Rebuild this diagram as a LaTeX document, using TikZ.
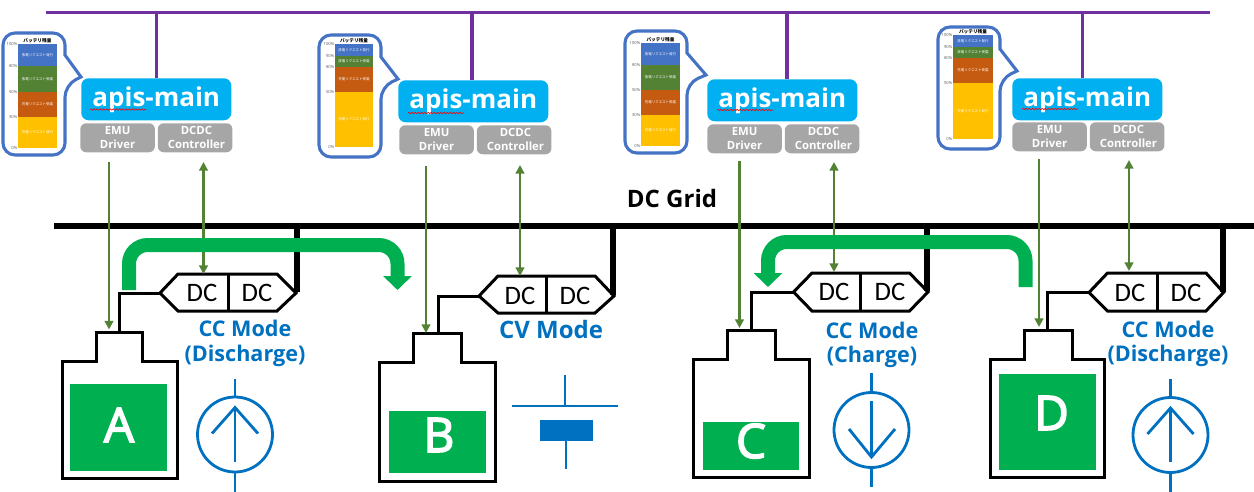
\documentclass[tikz,border=0pt]{standalone}
\usepackage{fontspec}
\setmainfont{Open Sans}
\newfontfamily\cjk{Noto Sans CJK JP}
\newfontfamily\letterfont{Open Sans}[FakeBold=3.2]
\newfontfamily\dcfont{Carlito}
\usetikzlibrary{arrows.meta,decorations.pathmorphing}
\definecolor{cApis}{HTML}{00B0F0}
\definecolor{cGrey}{HTML}{A6A6A6}
\definecolor{cBlue}{HTML}{0070C0}
\definecolor{cFlow}{HTML}{00B050}
\definecolor{cSig}{HTML}{548235}
\definecolor{cCall}{HTML}{4472C4}
\definecolor{cOrange}{HTML}{C55A11}
\definecolor{cYellow}{HTML}{FFC000}
\definecolor{cPurple}{HTML}{7030A0}
\definecolor{cPct}{HTML}{595959}
\tikzset{
  apisbox/.style={fill=cApis,rounded corners=5.5pt,minimum width=112.5pt,minimum height=31.5pt,inner sep=0pt,anchor=north west,text=white,font=\fontsize{19.5}{22}\selectfont\bfseries},
  greybox/.style={fill=cGrey,rounded corners=4.5pt,minimum width=56pt,minimum height=21.75pt,inner sep=0pt,anchor=north west,text=white,align=center,font=\fontsize{8.5}{10.5}\selectfont\bfseries},
  busline/.style={draw=cPurple,line width=2.4pt},
  gridline/.style={draw=black,line width=4.5pt},
  wireline/.style={draw=black,line width=2.25pt},
  signal/.style={draw=cSig,line width=1.7pt,-{Triangle[width=6.5pt,length=6.5pt]}},
  signalboth/.style={draw=cSig,line width=1.7pt,{Triangle[width=6.5pt,length=6.5pt]}-{Triangle[width=6.5pt,length=6.5pt]}},
  flow/.style={draw=cFlow,line width=10.5pt,rounded corners=14pt,-{Triangle[width=21pt,length=10.5pt]}},
  callout/.style={draw=cCall,line width=2.3pt,fill=white,line join=miter},
  sym/.style={draw=cBlue,line width=2.1pt},
  symcircle/.style={circle,draw=cBlue,line width=2.1pt,minimum size=56.25pt,inner sep=0pt},
  modelabel/.style={text=cBlue,font=\fontsize{16.2}{18}\selectfont\bfseries,inner sep=0pt},
  dctext/.style={font=\fontsize{20}{22}\selectfont\dcfont,inner sep=0pt},
  battletter/.style={text=white,font=\fontsize{35.7}{38}\selectfont\letterfont,inner sep=0pt},
  pct/.style={text=cPct,font=\fontsize{3.1}{4}\selectfont,inner sep=0pt,anchor=east},
  bartext/.style={text=white,font=\fontsize{2.6}{3}\selectfont\cjk,inner sep=0pt},
  bartitle/.style={text=black,font=\fontsize{3.5}{4}\selectfont\cjk\bfseries,inner sep=0pt},
  squiggle/.style={draw=red,line width=.5pt,decorate,decoration={snake,amplitude=.5pt,segment length=2.4pt}},
}
\begin{document}
\begin{tikzpicture}[x=.75pt,y=-.75pt]
\useasboundingbox (0,0) rectangle (1254,492);

% top bus and DC grid
\coordinate (busL) at (46,12.5);
\coordinate (busR) at (1210,12.5);
\draw[busline] (busL) -- (busR);
\coordinate (gridL) at (54,226);
\coordinate (gridR) at (1254,226);
\draw[gridline] (gridL) -- (gridR);
\node[inner sep=0pt,font=\fontsize{18}{20}\selectfont\bfseries] (gridlabel) at (672,198) {DC Grid};

% apis-main blocks
\foreach \n/\x/\y/\dx/\ex/\ey/\sx/\sy in {A/81/78/156.5/80/123/90/109.5,B/398/80/472/399/125/408/113,C/707/79/787/707/124/717/110,D/1012/78/1082.5/1012/122/1022/109}{
  \coordinate (drop\n) at (\dx,12.5);
  \node[apisbox] (apis\n) at (\x,\y) {\raisebox{-1.5pt}{apis-main}};
  \draw[busline] (drop\n) -- (drop\n |- apis\n.north);
  \node[greybox] (emu\n) at (\ex,\ey) {EMU\\Driver};
  \node[greybox] (dcdc\n) at (\ex+77.5,\ey) {\hspace*{2pt}DCDC\\\hspace*{2pt}Controller};
  \coordinate (sq\n a) at (\sx,\sy);
  \coordinate (sq\n b) at (\sx+56,\sy);
  \draw[squiggle] (sq\n a) -- (sq\n b);
}

% battery callouts
\foreach \n/\x/\y/\tx/\ty/\bl/\br/\ya/\yb/\yc/\yd/\ye/\pb/\pc/\pd in {
  A/3/33/81/77/18/57/44/66/92/117/148/80/50/30,
  B/319/35/398/79/335/373/44/56/67/92/147/90/80/50,
  C/625/31/706/75/641/680/43/65/90/115/146/80/50/30,
  D/938/27/1017/71/953/993/35/47/58/83/139/90/80/50}{
  \draw[callout,rounded corners=9pt] (\x+62,\y+22) -- (\x+62,\y) -- (\x,\y) -- (\x,\y+122) -- (\x+62,\y+122) -- (\x+62,\y+52) [sharp corners] -- (\tx,\ty) -- cycle;
  \fill[cCall] (\bl,\ya) rectangle (\br,\yb);
  \fill[cSig] (\bl,\yb) rectangle (\br,\yc);
  \fill[cOrange] (\bl,\yc) rectangle (\br,\yd);
  \fill[cYellow] (\bl,\yd) rectangle (\br,\ye);
  \pgfmathsetmacro\mx{(\bl+\br)/2}
  \node[bartext] (t\n a) at (\mx,{(\ya+\yb)/2}) {放電リクエスト発行};
  \node[bartext] (t\n b) at (\mx,{(\yb+\yc)/2}) {放電リクエスト受諾};
  \node[bartext] (t\n c) at (\mx,{(\yc+\yd)/2}) {充電リクエスト受諾};
  \node[bartext] (t\n d) at (\mx,{(\yd+\ye)/2}) {充電リクエスト発行};
  \node[bartitle] (title\n) at (\mx,\ya-3) {バッテリ残量};
  \node[pct] (p\n a) at (\bl-.5,\ya) {100\%};
  \node[pct] (p\n b) at (\bl-.5,\yb) {\pb\%};
  \node[pct] (p\n c) at (\bl-.5,\yc) {\pc\%};
  \node[pct] (p\n d) at (\bl-.5,\yd) {\pd\%};
  \node[pct] (p\n e) at (\bl-.5,\ye) {0\%};
}

% batteries
\foreach \n/\bl/\br/\cl/\cr/\yt/\ys/\yb/\fl/\fr/\ft/\fb/\lx/\ly/\wx in {
  A/62/177/96/142/332/361/478/70/167/384/471/119/425/119,
  B/379/495/413/461/333/362/481/389/486/411/473/439/435/438,
  C/693.5/809/727.5/775.5/330/359/477/703/799/422/470/751/441/751,
  D/990/1104.5/1024/1072/330/359/477/999/1096/374/470/1051.5/413/1047}{
  \coordinate (top\n) at (\wx,\yt);
  \draw[wireline,line join=miter] (\bl,\ys) -- (\cl,\ys) -- (\cl,\yt) -- (\cr,\yt) -- (\cr,\ys) -- (\br,\ys) -- (\br,\yb) -- (\bl,\yb) -- cycle;
  \fill[cFlow] (\fl,\ft) rectangle (\fr,\fb);
  \node[battletter] (letter\n) at (\lx,\ly) {\n};
}

% DC/DC converters
\foreach \n/\xl/\xa/\xd/\xb/\xr/\yt/\ym/\yb/\ta/\tb/\gx in {
  A/160/178/228/277/296/274/293/311/202/257/297,
  B/479/498/546/595/614/276/296/313/520/575/613,
  C/793.5/812/860.5/909.5/928/273/292/311/834/890/927,
  D/1089/1107.5/1157/1206/1223.5/273/292.5/311/1130/1186/1223}{
  \draw[wireline,fill=white,line join=miter] (\xl,\ym) -- (\xa,\yt) -- (\xb,\yt) -- (\xr,\ym) -- (\xb,\yb) -- (\xa,\yb) -- cycle;
  \draw[wireline] (\xd,\yt) -- (\xd,\yb);
  \coordinate (conv\n L) at (\xl,\ym);
  \coordinate (conv\n R) at (\gx,\ym-1);
  \coordinate (conv\n T) at (\xd,\yt);
  \coordinate (grid\n) at (\gx,226);
  \node[dctext] (dcl\n) at (\ta,\ym) {DC};
  \node[dctext] (dcr\n) at (\tb,\ym) {DC};
  \draw[gridline] (grid\n) -- (conv\n R);
  \draw[wireline,line join=miter] (conv\n L) -| (top\n);
}

% signal lines
\foreach \n/\ex/\ea/\eb/\dx/\da/\db in {
  A/109/162/329.5/203.5/162/274,
  B/426/166/333/520/165/276,
  C/739.5/161/328/834/162/272,
  D/1039/159/327/1129/160/271}{
  \coordinate (ea\n) at (\ex,\ea);
  \coordinate (eb\n) at (\ex,\eb);
  \coordinate (da\n) at (\dx,\da);
  \coordinate (db\n) at (\dx,\db);
  \draw[signal] (ea\n) -- (eb\n);
  \draw[signalboth] (da\n) -- (db\n);
}

% power flow arrows
\coordinate (flowAa) at (129,290);
\coordinate (flowAb) at (397.5,290);
\coordinate (flowCa) at (1025.5,287);
\coordinate (flowCb) at (768,287);
\draw[flow] (flowAa) -- (129,245) -- (397.5,245) -- (flowAb);
\draw[flow] (flowCa) -- (1025.5,242) -- (768,242) -- (flowCb);

% mode labels
\node[modelabel] (modeA1) at (245,328) {CC Mode};
\node[modelabel] (modeA2) at (245,356) {(Discharge)};
\node[modelabel,font=\fontsize{18}{20}\selectfont\bfseries] (modeB) at (551,329) {CV Mode};
\node[modelabel] (modeC1) at (872,330) {CC Mode};
\node[modelabel] (modeC2) at (872,357) {(Charge)};
\node[modelabel] (modeD1) at (1168,329) {CC Mode};
\node[modelabel] (modeD2) at (1168,356) {(Discharge)};

% current source symbols
\foreach \n/\cx/\cy in {A/235/434.5,D/1170.5/435}{
  \node[symcircle] (sym\n) at (\cx,\cy) {};
  \coordinate (sym\n t) at (\cx,\cy-56);
  \coordinate (sym\n b) at (\cx,\cy+57);
  \draw[sym] (sym\n t) -- (sym\n.north);
  \draw[sym] (sym\n.south) -- (sym\n b);
  \draw[sym] (\cx,\cy+27) -- (\cx,\cy-27);
  \draw[sym,line join=miter] (\cx-23,\cy-1) -- (\cx,\cy-27) -- (\cx+23,\cy-1);
}
\node[symcircle] (symC) at (871.5,430) {};
\coordinate (symCt) at (871.5,373);
\coordinate (symCb) at (871.5,487);
\draw[sym] (symCt) -- (symC.north);
\draw[sym] (symC.south) -- (symCb);
\draw[sym] (871.5,401) -- (871.5,457);
\draw[sym,line join=miter] (849,429) -- (871.5,457) -- (895,429);

% constant voltage symbol
\coordinate (symBt) at (565,375);
\coordinate (symBp) at (565,406);
\coordinate (symBl) at (512,406);
\coordinate (symBr) at (618,406);
\coordinate (symBn) at (566,441);
\coordinate (symBb) at (566,469);
\draw[sym] (symBt) -- (symBp);
\draw[sym] (symBl) -- (symBr);
\fill[cBlue] (540,420) rectangle (593,441);
\draw[sym] (symBn) -- (symBb);
\end{tikzpicture}
\end{document}
